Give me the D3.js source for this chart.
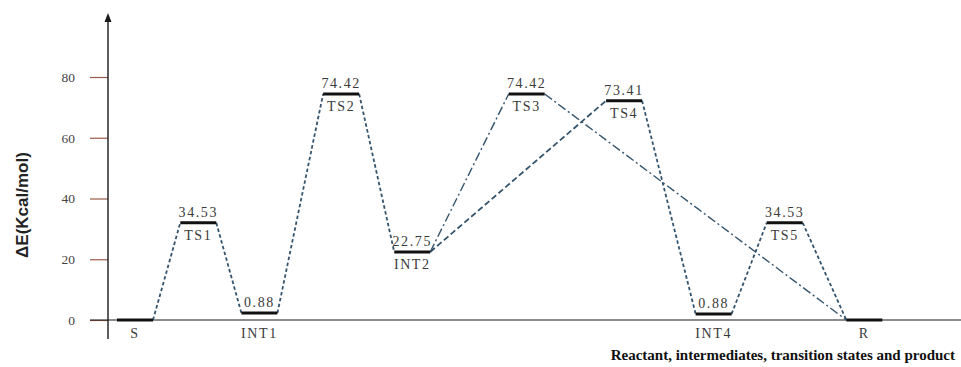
<!DOCTYPE html>
<html>
<head>
<meta charset="utf-8">
<script src="https://cdn.jsdelivr.net/npm/d3@7"></script>
<style>
  body { margin: 0; background: #fff; }
  svg { display: block; }
  .lvl-text { font-family: "Liberation Serif", "Times New Roman", serif; font-size: 14px; fill: #3a3a3a; letter-spacing: 1.6px; }
  .y-axis text { font-family: "Liberation Serif", serif; font-size: 13.5px; fill: #444; }
</style>
</head>
<body>
<div id="chart"></div>
<script>
// states along the reaction coordinate
const states = ['S', 'TS1', 'INT1', 'TS2', 'INT2', 'TS3', 'TS4', 'INT4', 'TS5', 'R'];
// reaction coordinate position of each state
const coords = [0.38, 1.27, 2.13, 3.28, 4.28, 5.89, 7.26, 8.52, 9.52, 10.64];
// drawn energy level (kcal/mol)
const levels = [0, 32, 2.3, 74.4, 22.4, 74.4, 72.2, 2, 32, 0];
// printed energy labels
const energyLabels = ['', '34.53', '0.88', '74.42', '22.75', '74.42', '73.41', '0.88', '34.53', ''];
const yTicks = [0, 20, 40, 60, 80];

// pathways: [from, to, style]
const links = [
  ['S', 'TS1', 'dot'], ['TS1', 'INT1', 'dot'], ['INT1', 'TS2', 'dot'], ['TS2', 'INT2', 'dot'],
  ['INT2', 'TS3', 'dashdot'], ['TS3', 'R', 'dashdot'],
  ['INT2', 'TS4', 'dash'], ['TS4', 'INT4', 'dot'], ['INT4', 'TS5', 'dot'], ['TS5', 'R', 'dot'],
];

const width = 961, height = 367;
const x = d3.scaleLinear().domain([0, 12]).range([108, 961]);
const y = d3.scaleLinear().domain([0, 80]).range([320, 77]);
const hw = 18; // half bar width

const svg = d3.select('#chart').append('svg')
  .attr('width', width).attr('height', height);

const idx = name => states.indexOf(name);

// y axis
const yAxis = d3.axisLeft(y).tickValues(yTicks).tickSize(18).tickPadding(15);
const gy = svg.append('g').attr('class', 'y-axis')
  .attr('transform', 'translate(108,0)')
  .call(yAxis);
gy.select('.domain').remove();
gy.selectAll('.tick line').attr('stroke', '#9a5a48').attr('stroke-width', 1.2);

// axis lines
svg.append('line').attr('x1', 108).attr('x2', 108).attr('y1', 20).attr('y2', 339)
  .attr('stroke', '#1a1a1a').attr('stroke-width', 1.4);
svg.append('path').attr('d', 'M108,13 L104.5,22 L111.5,22 Z').attr('fill', '#1a1a1a');
svg.append('line').attr('x1', 90).attr('x2', 961).attr('y1', y(0)).attr('y2', y(0))
  .attr('stroke', '#1a1a1a').attr('stroke-width', 1.2);

// connecting lines
const dash = { dot: '3.5,2.5', dash: '6,3', dashdot: '9,3,2,3' };
svg.append('g').selectAll('line')
  .data(links)
  .join('line')
  .attr('x1', d => x(coords[idx(d[0])]) + hw)
  .attr('y1', d => y(levels[idx(d[0])]))
  .attr('x2', d => x(coords[idx(d[1])]) - hw)
  .attr('y2', d => y(levels[idx(d[1])]))
  .attr('stroke', '#34546e')
  .attr('stroke-width', d => (d[2] === 'dashdot' ? 1.4 : 1.8))
  .attr('stroke-dasharray', d => dash[d[2]]);

// energy levels
const lvl = svg.append('g').selectAll('g')
  .data(states)
  .join('g')
  .attr('transform', (d, i) => `translate(${x(coords[i])},${y(levels[i])})`);

lvl.append('line')
  .attr('x1', -hw).attr('x2', hw)
  .attr('stroke', '#111').attr('stroke-width', 3);

lvl.append('text')
  .attr('class', 'lvl-text')
  .attr('text-anchor', 'middle')
  .attr('y', -6)
  .text((d, i) => energyLabels[i]);

lvl.append('text')
  .attr('class', 'lvl-text')
  .attr('text-anchor', 'middle')
  .attr('y', (d, i) => (levels[i] < 5 ? y(0) - y(levels[i]) + 18 : 17))
  .text(d => d);

// axis titles
svg.append('text')
  .attr('transform', 'translate(28,205) rotate(-90)')
  .attr('text-anchor', 'middle')
  .style('font-family', '"Liberation Sans", Arial, sans-serif')
  .style('font-size', '17px')
  .style('font-weight', 'bold')
  .attr('fill', '#222')
  .text('ΔE(Kcal/mol)');

svg.append('text')
  .attr('x', 955).attr('y', 360)
  .attr('text-anchor', 'end')
  .style('font-family', '"Liberation Serif", "Times New Roman", serif')
  .style('font-size', '15px')
  .style('font-weight', 'bold')
  .attr('fill', '#111')
  .text('Reactant, intermediates, transition states and product');
</script>
</body>
</html>
